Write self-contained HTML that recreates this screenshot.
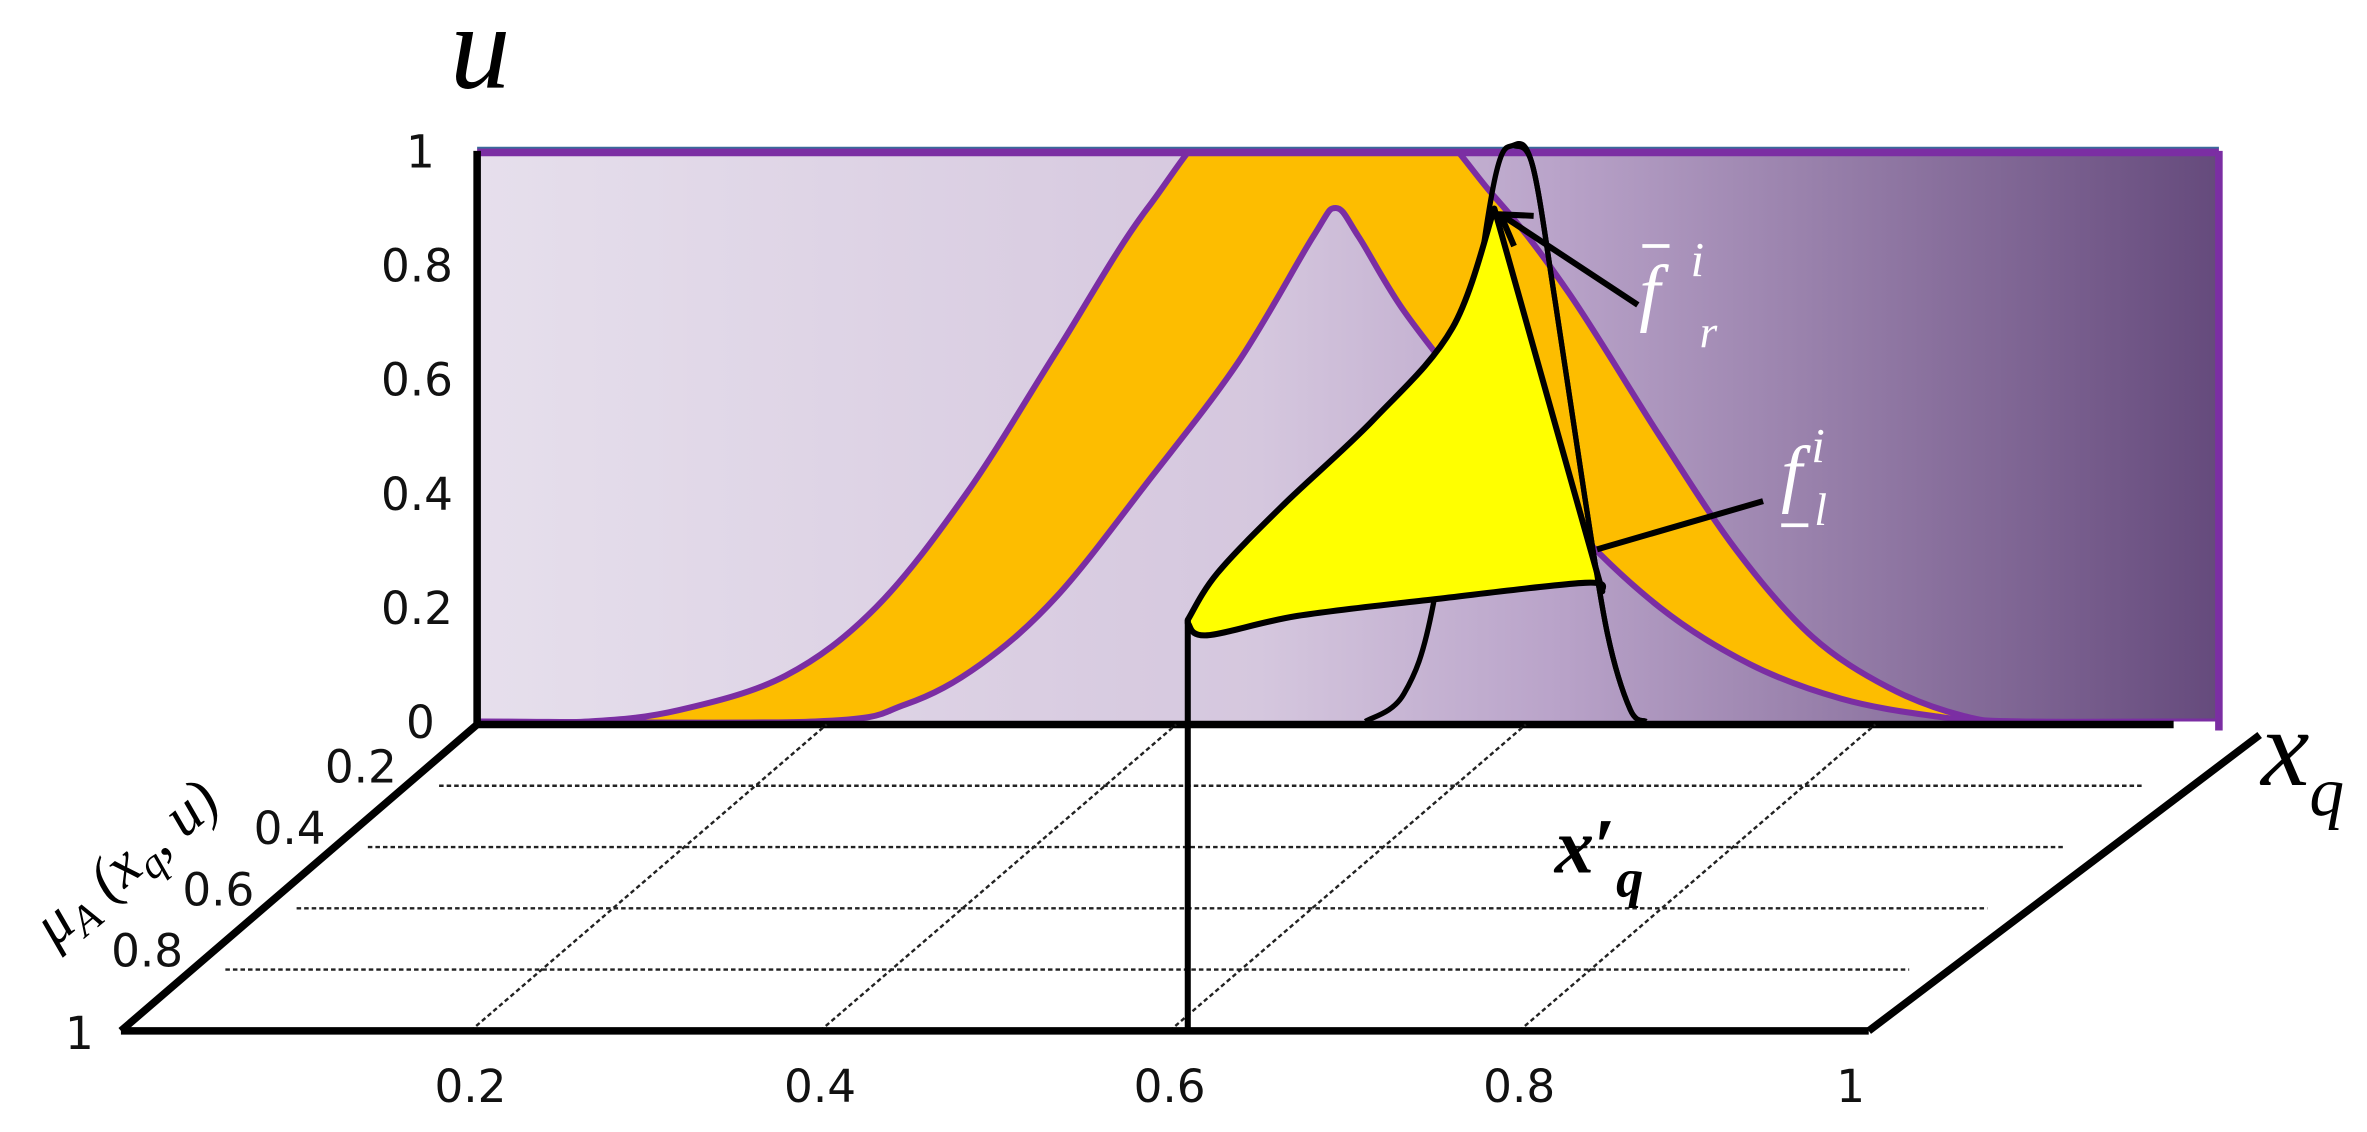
<!DOCTYPE html>
<html><head><meta charset="utf-8"><style>
html,body{margin:0;padding:0;background:#fff;}
svg{display:block;}
text{font-family:"DejaVu Sans","Liberation Sans",sans-serif;}
.tick{font-size:30px;fill:#111;}
.math{font-family:"Liberation Serif","DejaVu Serif",serif;font-style:italic;}
</style></head><body>
<svg width="2367" height="1132" viewBox="0 0 1568 750" xmlns="http://www.w3.org/2000/svg">
<defs>
<linearGradient id="bg" x1="0" x2="1" y1="0" y2="0">
<stop offset="0" stop-color="#e6dfec"/><stop offset="0.45" stop-color="#d5c7de"/>
<stop offset="0.62" stop-color="#b9a3c9"/><stop offset="1" stop-color="#654a7c"/>
</linearGradient>
<clipPath id="panelClip"><rect x="316" y="101" width="1154" height="377"/></clipPath>
</defs>
<g id="chart"></g>
</svg>
<script>
// data (x in [0,1], u in [0,1]; UMF exceeds 1 and is clipped by the panel)
const umfX=[0,0.064,0.116,0.177,0.229,0.281,0.333,0.385,0.44,0.53,0.584,0.627,0.679,0.723,0.766,0.810,0.853,0.887,1];
const umfU=[0,0,0.02,0.08,0.2,0.4,0.65,0.9,1.08,1.08,0.92,0.75,0.5,0.3,0.15,0.06,0.01,0,0];
const lmfX=[0,0.194,0.246,0.289,0.333,0.385,0.437,0.480,0.493,0.506,0.532,0.575,0.627,0.679,0.731,0.783,0.835,0.879,1];
const lmfU=[0,0,0.03,0.1,0.22,0.42,0.63,0.85,0.9,0.85,0.72,0.55,0.35,0.2,0.1,0.04,0.01,0,0];
const yTicks=[0,0.2,0.4,0.6,0.8,1];
const xTicks=[0.2,0.4,0.6,0.8,1];
const muTicks=[0.2,0.4,0.6,0.8,1];
// secondary membership (yellow) outline
const secLeftX=[0.408,0.425,0.463,0.515,0.560,0.584];
const secLeftU=[0.178,0.26,0.38,0.53,0.69,0.899];
const secCornerX=[0.646];
const secCornerU=[0.228];
const secBottomX=[0.646,0.636,0.549,0.471,0.419,0.408];
const secBottomU=[0.228,0.243,0.214,0.185,0.151,0.172];
// primary membership slice at x'
const spikeX=[0.510,0.532,0.549,0.567,0.584,0.595,0.606,0.619,0.636,0.649,0.662,0.671];
const spikeU=[0,0.048,0.206,0.603,0.947,1.01,0.974,0.735,0.392,0.153,0.021,0];

const NS="http://www.w3.org/2000/svg";
const g=document.getElementById('chart');
const X0=316,X1=1470,Y0=478,Y1=100;
const xs=v=>X0+(X1-X0)*v;
const ys=v=>Y0-(Y0-Y1)*v;
const FB=480,FF=683,FL0=80,FS=1158;
const fxFront=v=>FL0+FS*v, fxBack=v=>X0+FS*v;
const fy=m=>FB+(FF-FB)*m;
const leftEdge=m=>X0+(FL0-X0)*m, rightEdge=m=>1497+(1238-1497)*m;
function el(t,a,p){const e=document.createElementNS(NS,t);for(const k in a)e.setAttribute(k,a[k]);(p||g).appendChild(e);return e;}
function smoothPts(px,py,start){let d=start?`M${px[0]},${py[0]}`:'';for(let i=0;i<px.length-1;i++){const a=Math.max(i-1,0),b=Math.min(i+2,px.length-1);
d+=` C${px[i]+(px[i+1]-px[a])/6},${py[i]+(py[i+1]-py[a])/6} ${px[i+1]-(px[b]-px[i])/6},${py[i+1]-(py[b]-py[i])/6} ${px[i+1]},${py[i+1]}`;}return d;}

let e=el('rect',{x:X0,y:Y1,width:X1-X0,height:Y0-Y1,fill:'url(#bg)'});

const cg=el('g',{'clip-path':'url(#panelClip)'});
const ux=umfX.map(xs),uy=umfU.map(ys),lx=lmfX.map(xs),ly=lmfU.map(ys);
const lxr=lx.slice().reverse(),lyr=ly.slice().reverse();
e=el('path',{d:smoothPts(ux,uy,true)+` L${lxr[0]},${lyr[0]}`+smoothPts(lxr,lyr,false)+'Z',fill:'#fdbd00',stroke:'none'},cg);

e=el('path',{d:smoothPts(ux,uy,true),fill:'none',stroke:'#7b2ea3','stroke-width':4},cg);

e=el('path',{d:smoothPts(lx,ly,true),fill:'none',stroke:'#7b2ea3','stroke-width':4},cg);

e=el('line',{x1:X0,y1:Y1-2,x2:X1,y2:Y1-2,stroke:'#3a6a9a','stroke-width':1.5});

e=el('line',{x1:X0,y1:Y1+1,x2:X1,y2:Y1+1,stroke:'#7b2ea3','stroke-width':5});

e=el('line',{x1:X1,y1:Y1,x2:X1,y2:Y0+6,stroke:'#7b2ea3','stroke-width':5});

e=el('line',{x1:X0,y1:Y1,x2:X0,y2:Y0+3,stroke:'#000','stroke-width':5});

e=el('line',{x1:X0,y1:FB,x2:1440,y2:FB,stroke:'#000','stroke-width':5});


muTicks.slice(0,4).forEach(m=>{const l=el('line',{x1:leftEdge(m)+22,y1:fy(m),x2:rightEdge(m)-25,y2:fy(m),stroke:'#222','stroke-width':1.6,'stroke-dasharray':'3,2'});
});
xTicks.slice(0,4).forEach(v=>{const l=el('line',{x1:fxFront(v),y1:FF,x2:fxBack(v),y2:FB,stroke:'#222','stroke-width':1.6,'stroke-dasharray':'3,2'});
});
e=el('line',{x1:X0,y1:FB,x2:FL0,y2:FF,stroke:'#000','stroke-width':5});

e=el('line',{x1:FL0,y1:FF,x2:1238,y2:FF,stroke:'#000','stroke-width':5});

e=el('line',{x1:1497,y1:487,x2:1238,y2:FF,stroke:'#000','stroke-width':5});


const spx=spikeX.map(xs),spy=spikeU.map(ys);
e=el('path',{d:smoothPts(spx,spy,true),fill:'none',stroke:'#000','stroke-width':3.5});

const slx=secLeftX.map(xs),sly=secLeftU.map(ys),sbx=secBottomX.map(xs),sby=secBottomU.map(ys);
e=el('path',{d:smoothPts(slx,sly,true)+` L${xs(secCornerX[0])},${ys(secCornerU[0])}`+smoothPts(sbx,sby,false)+'Z',fill:'#ffff00',stroke:'#000','stroke-width':4,'stroke-linejoin':'round'});

e=el('path',{d:smoothPts(spx.slice(5),spy.slice(5),true),fill:'none',stroke:'#000','stroke-width':3.5});

e=el('line',{x1:xs(secLeftX[0]),y1:ys(secLeftU[0]),x2:xs(secLeftX[0]),y2:FF,stroke:'#000','stroke-width':4});

e=el('line',{x1:1085,y1:202,x2:994,y2:142,stroke:'#000','stroke-width':4});

e=el('path',{d:'M1016,143 L994,142 L1003,163',fill:'none',stroke:'#000','stroke-width':4});

e=el('line',{x1:1168,y1:332,x2:1058,y2:364,stroke:'#000','stroke-width':4});


yTicks.forEach(v=>{const t=el('text',{x:v===1||v===0?288:300,y:ys(v)+11,class:'tick','text-anchor':'end'});t.textContent=String(v);
});
xTicks.forEach(v=>{const t=el('text',{x:fxFront(v)-(v===1?12:0),y:730,class:'tick','text-anchor':'middle'});t.textContent=String(v);
});
muTicks.forEach(v=>{const t=el('text',{x:leftEdge(v)-(v===1?18:6),y:fy(v)+(v===1?12:-2),class:'tick','text-anchor':'end'});t.textContent=String(v);
});

function txt(x,y,s,html,name,extra){const t=el('text',Object.assign({x:x,y:y,'font-size':s,class:'math'},extra||{}));t.innerHTML=html;return t;}
txt(298,58,80,'u','u-axis-title');
txt(1498,520,72,'x<tspan font-size="46" dy="20">q</tspan>','x-axis-title');
txt(1030,578,52,'x<tspan font-style="normal">\u2032</tspan><tspan font-size="36" dy="16">q</tspan>','x-prime-label',{'font-weight':'bold'});
txt(0,0,40,'\u03bc<tspan font-size="28" dy="8">A</tspan><tspan dy="-8"> (x</tspan><tspan font-size="28" dy="8">q</tspan><tspan dy="-8">, u)</tspan>','mu-axis-title',{transform:'translate(36,628) rotate(-40)'});
txt(1086,210,50,'f','f-upper-label',{fill:'#fff'});
e=el('line',{x1:1088,y1:163,x2:1106,y2:163,stroke:'#fff','stroke-width':2.5});

txt(1120,183,32,'i','f-upper-sup',{fill:'#fff'});
txt(1126,230,30,'r','f-upper-sub',{fill:'#fff'});
txt(1180,330,50,'f','f-lower-label',{fill:'#fff'});
e=el('line',{x1:1180,y1:348,x2:1198,y2:348,stroke:'#fff','stroke-width':2.5});

txt(1200,306,32,'i','f-lower-sup',{fill:'#fff'});
txt(1202,348,30,'l','f-lower-sub',{fill:'#fff'});
</script>
</body></html>
